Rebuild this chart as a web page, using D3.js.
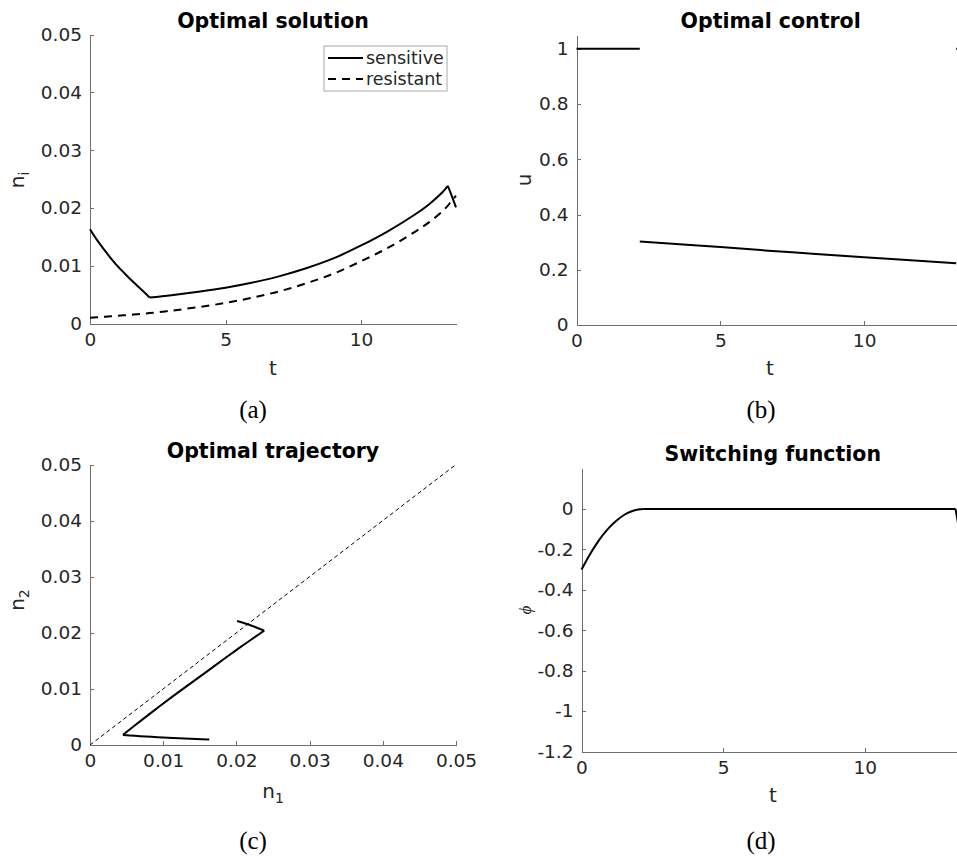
<!DOCTYPE html>
<html>
<head>
<meta charset="utf-8">
<script src="https://cdn.jsdelivr.net/npm/d3@7"></script>
<style>
  body { margin: 0; background: #fff; }
  svg { display: block; }
  .axis path, .axis line { stroke: #6e6e6e; shape-rendering: crispEdges; }
  .axis text { fill: #262626; font-family: "DejaVu Sans", sans-serif; font-size: 18.5px; }
  .title { font-family: "DejaVu Sans", sans-serif; font-weight: bold; font-size: 20.5px; fill: #000; }
  .lab { font-family: "DejaVu Sans", sans-serif; font-size: 20px; fill: #262626; }
  .cap { font-family: "Liberation Serif", serif; font-size: 25px; fill: #000; }
</style>
</head>
<body>
<div id="chart"></div>
<script>
// state trajectory (sensitive n1, resistant n2)
const tState = [0, 0.25, 0.5, 0.75, 1, 1.25, 1.5, 1.75, 2, 2.2, 3, 4, 5, 6, 7, 8, 9, 10, 11, 12, 12.5, 13, 13.2, 13.35, 13.5];
const nSens = [0.0163, 0.0145, 0.0129, 0.0114, 0.0100, 0.0088, 0.0076, 0.0065, 0.0054, 0.0045,
               0.0049, 0.0055, 0.0062, 0.0071, 0.0082, 0.0096, 0.0113, 0.0135, 0.0160, 0.0189, 0.0206, 0.0227, 0.0238, 0.0220, 0.0201];
const nRes = [0.00100, 0.00108, 0.00116, 0.00124, 0.00133, 0.00142, 0.00151, 0.00160, 0.00170, 0.00180,
              0.00222, 0.00284, 0.00356, 0.00448, 0.00559, 0.00699, 0.00866, 0.01077, 0.01312, 0.0159, 0.0175, 0.0194, 0.0204, 0.0213, 0.0221];
const switchTimes = [2.2, 13.2];

// control: bang arcs (u = 1) and singular arc
const bangArcs = [[0, 2.2], [13.2, 13.5]];
const tSing = [2.2, 5, 7.5, 10, 13.2];
const uSing = [0.302, 0.282, 0.263, 0.2455, 0.224];

// switching function
const tPhi = [0, 0.25, 0.5, 0.75, 1, 1.25, 1.5, 1.75, 2, 2.2, 13.2, 13.35, 13.5];
const phi = [-0.300, -0.236, -0.179, -0.130, -0.089, -0.056, -0.030, -0.013, -0.0025, 0, 0, -0.12, -0.25];

// ticks
const tTicks = [0, 5, 10];
const nTicks = [0, 0.01, 0.02, 0.03, 0.04, 0.05];
const uTicks = [0, 0.2, 0.4, 0.6, 0.8, 1];
const phiTicks = [-1.2, -1, -0.8, -0.6, -0.4, -0.2, 0];
const fmt = d => d3.format("~g")(d).replace("−", "-");

const svg = d3.select("#chart").append("svg")
  .attr("width", 957).attr("height", 858);

function axes(x, y, xt, yt) {
  const g = svg.append("g");
  g.append("g").attr("class", "axis")
    .attr("transform", `translate(0,${y.range()[0]})`)
    .call(d3.axisBottom(x).tickValues(xt).tickFormat(fmt).tickSizeInner(-4).tickSizeOuter(0).tickPadding(9));
  g.append("g").attr("class", "axis")
    .attr("transform", `translate(${x.range()[0]},0)`)
    .call(d3.axisLeft(y).tickValues(yt).tickFormat(fmt).tickSizeInner(-4).tickSizeOuter(0).tickPadding(8));
  return g;
}

function title(x, yPos, text) {
  svg.append("text").attr("class", "title")
    .attr("x", (x.range()[0] + x.range()[1]) / 2).attr("y", yPos)
    .attr("text-anchor", "middle").text(text);
}

// split a time series at the switching times so kinks stay sharp
function arcs(ts, xs, ys) {
  const edges = [ts[0], ...switchTimes, ts[ts.length - 1]];
  const out = [];
  for (let k = 0; k < edges.length - 1; k++) {
    const seg = [];
    ts.forEach((t, i) => { if (t >= edges[k] && t <= edges[k + 1]) seg.push([xs[i], ys[i]]); });
    if (seg.length > 1) out.push(seg);
  }
  return out;
}

function plotLine(x, y, pts, dash, w) {
  svg.append("path")
    .datum(pts)
    .attr("fill", "none").attr("stroke", "#000")
    .attr("stroke-width", w || 2)
    .attr("stroke-dasharray", dash || null)
    .attr("d", d3.line().curve(d3.curveCatmullRom.alpha(0.5)).x(d => x(d[0])).y(d => y(d[1])));
}

// (a) Optimal solution
const xa = d3.scaleLinear().domain([0, 13.5]).range([90, 456]);
const ya = d3.scaleLinear().domain([0, 0.05]).range([323.5, 34.5]);
axes(xa, ya, tTicks, nTicks);
title(xa, 28, "Optimal solution");
plotLine(xa, ya, tState.map((t, i) => [t, nRes[i]]), "8,6");
arcs(tState, tState, nSens).forEach(s => plotLine(xa, ya, s));
const leg = svg.append("g");
leg.append("rect").attr("x", 324).attr("y", 46).attr("width", 123).attr("height", 45)
  .attr("fill", "#fff").attr("stroke", "#aaa").attr("stroke-width", 1);
[["sensitive", null, 58], ["resistant", "8,6", 79]].forEach(([name, dash, yy]) => {
  leg.append("line").attr("x1", 328).attr("x2", 363).attr("y1", yy).attr("y2", yy)
    .attr("stroke", "#000").attr("stroke-width", 2).attr("stroke-dasharray", dash);
  leg.append("text").attr("class", "lab").attr("x", 366).attr("y", yy + 6)
    .style("font-size", "17.5px").text(name);
});
svg.append("text").attr("class", "lab").attr("x", 273).attr("y", 375).attr("text-anchor", "middle").text("t");
svg.append("text").attr("class", "lab").attr("transform", "translate(24,180) rotate(-90)")
  .attr("text-anchor", "middle").html('n<tspan dy="5" font-size="14">i</tspan>');
svg.append("text").attr("class", "cap").attr("x", 253).attr("y", 418).attr("text-anchor", "middle").text("(a)");

// (b) Optimal control
const xb = d3.scaleLinear().domain([0, 13.5]).range([576.5, 964.8]);
const yb = d3.scaleLinear().domain([0, 1.05]).range([325, 35]);
axes(xb, yb, tTicks, uTicks);
title(xb, 28, "Optimal control");
bangArcs.forEach(a => plotLine(xb, yb, a.map(t => [t, 1])));
plotLine(xb, yb, tSing.map((t, i) => [t, uSing[i]]));
svg.append("text").attr("class", "lab").attr("x", 770).attr("y", 375).attr("text-anchor", "middle").text("t");
svg.append("text").attr("class", "lab").attr("transform", "translate(531,180) rotate(-90)")
  .attr("text-anchor", "middle").text("u");
svg.append("text").attr("class", "cap").attr("x", 761).attr("y", 418).attr("text-anchor", "middle").text("(b)");

// (c) Optimal trajectory
const xc = d3.scaleLinear().domain([0, 0.05]).range([90, 456]);
const yc = d3.scaleLinear().domain([0, 0.05]).range([745, 464.5]);
axes(xc, yc, nTicks, nTicks);
title(xc, 458, "Optimal trajectory");
plotLine(xc, yc, [[0, 0], [0.05, 0.05]], "4,3", 1);
arcs(tState, nSens, nRes).forEach(s => plotLine(xc, yc, s));
svg.append("text").attr("class", "lab").attr("x", 273).attr("y", 798).attr("text-anchor", "middle")
  .html('n<tspan dy="5" font-size="14">1</tspan>');
svg.append("text").attr("class", "lab").attr("transform", "translate(24,600) rotate(-90)")
  .attr("text-anchor", "middle").html('n<tspan dy="5" font-size="14">2</tspan>');
svg.append("text").attr("class", "cap").attr("x", 253).attr("y", 849).attr("text-anchor", "middle").text("(c)");

// (d) Switching function
const xd = d3.scaleLinear().domain([0, 13.5]).range([581.5, 964]);
const yd = d3.scaleLinear().domain([-1.2, 0.2]).range([751.5, 468.5]);
axes(xd, yd, tTicks, phiTicks);
title(xd, 461, "Switching function");
arcs(tPhi, tPhi, phi).forEach(s => plotLine(xd, yd, s));
svg.append("text").attr("class", "lab").attr("x", 773).attr("y", 802).attr("text-anchor", "middle").text("t");
svg.append("text").attr("transform", "translate(531,610) rotate(-90)")
  .attr("text-anchor", "middle").style("font-family", "Liberation Serif, serif")
  .style("font-style", "italic").style("font-size", "17px").attr("fill", "#262626").text("ϕ");
svg.append("text").attr("class", "cap").attr("x", 761).attr("y", 849).attr("text-anchor", "middle").text("(d)");
</script>
</body>
</html>
